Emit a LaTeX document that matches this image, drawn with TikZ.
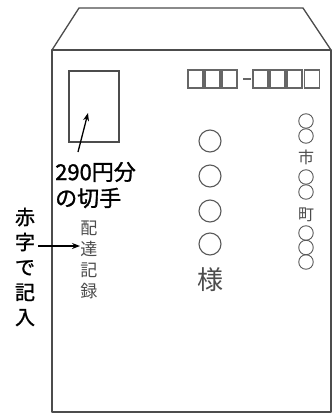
\documentclass[tikz,border=0pt]{standalone}
\usepackage{fontspec}
\newfontfamily\jp{Noto Sans CJK JP}
\newfontfamily\jpm{Noto Sans CJK JP}[FakeBold=1.2]
\usetikzlibrary{arrows.meta}
\begin{document}
\begin{tikzpicture}[x=1pt,y=-1pt]
\tikzset{
  envline/.style={draw=black!70, line width=1.3pt, line join=round},
  stampbox/.style={draw=black!70, line width=1.2pt, minimum width=50pt, minimum height=71pt, inner sep=0pt},
  pbox/.style={draw=black!60, line width=1.1pt, minimum width=15pt, minimum height=18pt, inner sep=0pt},
  bigcirc/.style={circle, draw=black!65, line width=1.1pt, minimum size=22pt, inner sep=0pt},
  smallcirc/.style={circle, draw=black!65, line width=0.9pt, minimum size=14.5pt, inner sep=0pt},
  biglabel/.style={font=\jpm\fontsize{22}{24}\selectfont, inner sep=0pt},
  vlabel/.style={font=\jpm\fontsize{20}{25}\selectfont, align=center, inner sep=0pt},
  hlabel/.style={font=\jp\fontsize{17}{21}\selectfont, text=black!70, align=center, inner sep=0pt},
  samalabel/.style={font=\jp\fontsize{26}{26}\selectfont, text=black!70, inner sep=0pt},
  smalllabel/.style={font=\jp\fontsize{16}{16}\selectfont, text=black!70, inner sep=0pt},
  arr/.style={-{Stealth[length=8pt,width=6pt]}, line width=1.3pt},
}
\useasboundingbox (0,0) rectangle (334,416);
% envelope
\coordinate (fl) at (52,50);
\coordinate (flt) at (79,8);
\coordinate (frt) at (303,8);
\coordinate (fr) at (331,50);
\coordinate (br) at (331,412);
\coordinate (bl) at (52,412);
\draw[envline] (fl) -- (flt) -- (frt) -- (fr);
\draw[envline] (fl) -- (fr) -- (br) -- (bl) -- cycle;
% stamp
\node[stampbox] (stamp) at (94,106.5) {};
\coordinate (stail) at (78,152);
\coordinate (shead) at (88,113);
\draw[arr] (stail) -- (shead);
\node[biglabel, anchor=west] (price) at (55,172) {290円分};
\node[biglabel, anchor=west] (kitte) at (55,198) {の切手};
% red ink note
\node[vlabel] (aka) at (25,267) {赤\\字\\で\\記\\入};
\node[hlabel] (haitatsu) at (89,259.5) {配\\達\\記\\録};
\coordinate (atail) at (38,246);
\coordinate (ahead) at (80,246);
\draw[arr] (atail) -- (ahead);
% postal code
\foreach \i/\xx in {1/195.5,2/212.5,3/229.5,4/260.5,5/277.5,6/294.5,7/312}
  \node[pbox] (p\i) at (\xx,79) {};
\coordinate (d1) at (243,79);
\coordinate (d2) at (251,79);
\draw[draw=black!60, line width=1.1pt] (d1) -- (d2);
% addressee circles
\foreach \i/\yy in {1/141,2/176,3/211,4/244}
  \node[bigcirc] (m\i) at (210,\yy) {};
\node[samalabel] (sama) at (210,280) {様};
% address circles
\foreach \i/\yy in {1/121,2/136,3/177,4/192,5/233,6/247.5,7/262}
  \node[smallcirc] (s\i) at (306,\yy) {};
\node[smalllabel] (shi) at (306,157) {市};
\node[smalllabel] (machi) at (306,215) {町};
\end{tikzpicture}
\end{document}
